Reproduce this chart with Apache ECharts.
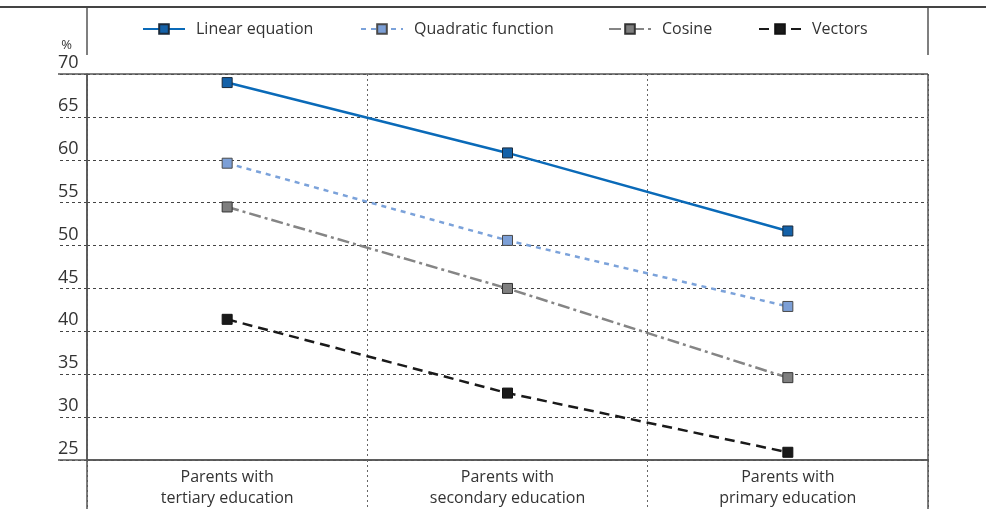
<!DOCTYPE html>
<html>
<head>
<meta charset="utf-8">
<script src="https://cdn.jsdelivr.net/npm/echarts@6/dist/echarts.min.js"></script>
<style>
  html, body { margin: 0; padding: 0; background: #fff; }
  #chart { width: 986px; height: 509px; }
</style>
</head>
<body>
<div id="chart"></div>
<script>
// Share of students (%) by parents' education level
const categories = ['Parents with\ntertiary education', 'Parents with\nsecondary education', 'Parents with\nprimary education'];
const linearEquation = [69.0, 60.8, 51.7];
const quadraticFunction = [59.6, 50.6, 42.9];
const cosine = [54.5, 45.0, 34.6];
const vectors = [41.4, 32.8, 25.9];
const seriesNames = ['Linear equation', 'Quadratic function', 'Cosine', 'Vectors'];

const FONT = '"Open Sans", "DejaVu Sans", sans-serif';
const TEXT = '#333';

const chart = echarts.init(document.getElementById('chart'), null, { renderer: 'canvas' });

function lineSeries(name, data, color, markerFill, markerBorder, dash) {
  return {
    name: name,
    type: 'line',
    data: data,
    symbol: 'rect',
    symbolSize: 10,
    showSymbol: true,
    lineStyle: { color: color, width: 2.5, type: dash },
    itemStyle: { color: markerFill, borderColor: markerBorder, borderWidth: 1 },
    emphasis: { disabled: true },
    z: 5
  };
}

function legendFor(name, left) {
  return {
    data: [name],
    left: left,
    top: 21,
    itemWidth: 42,
    itemHeight: 12,
    itemGap: 0,
    padding: 0,
    textStyle: { fontFamily: FONT, fontSize: 16, color: TEXT, padding: [0, 0, 0, 6] },
    selectedMode: false
  };
}

const option = {
  backgroundColor: '#fff',
  animation: false,
  textStyle: { fontFamily: FONT },
  legend: [
    legendFor(seriesNames[0], 142),
    legendFor(seriesNames[1], 360),
    legendFor(seriesNames[2], 608),
    legendFor(seriesNames[3], 758)
  ],
  grid: { left: 87, right: 58, top: 74, bottom: 48, containLabel: false },
  xAxis: {
    type: 'category',
    data: categories,
    boundaryGap: true,
    axisLine: { show: true, lineStyle: { color: '#555', width: 1.5 } },
    axisTick: { show: true, length: 48, lineStyle: { color: '#666', type: [2, 3], width: 1 } },
    splitLine: { show: true, lineStyle: { color: '#666', type: [2, 3], width: 1 } },
    axisLabel: { color: TEXT, fontSize: 16, fontFamily: FONT, lineHeight: 21, margin: 7 }
  },
  yAxis: [
    {
      type: 'value',
      min: 25,
      max: 70,
      interval: 5,
      name: '%',
      nameLocation: 'end',
      nameGap: 22,
      nameTextStyle: { color: TEXT, fontSize: 13, fontFamily: FONT, align: 'right', padding: [0, 15, 0, 0] },
      axisLine: { show: true, lineStyle: { color: '#555', width: 1.5 } },
      axisTick: { show: true, length: 29, lineStyle: { color: '#444', type: [3, 3], width: 1 } },
      splitLine: { show: true, lineStyle: { color: '#444', type: [3, 3], width: 1 } },
      axisLabel: {
        color: TEXT, fontSize: 18, fontFamily: FONT,
        align: 'left', verticalAlign: 'bottom', margin: 29, padding: [0, 0, 2, 0]
      }
    },
    {
      // solid frame at the top and bottom of the value range
      type: 'value',
      min: 25,
      max: 70,
      interval: 45,
      position: 'left',
      axisLine: { show: false },
      axisTick: { show: true, length: 29, lineStyle: { color: '#555', width: 1.5 } },
      splitLine: { show: true, lineStyle: { color: '#555', width: 1.5 } },
      axisLabel: { show: false }
    }
  ],
  graphic: [
    { type: 'line', shape: { x1: 0, y1: 7, x2: 986, y2: 7 }, style: { stroke: '#444', lineWidth: 2 }, z: 10 },
    { type: 'line', shape: { x1: 87, y1: 8, x2: 87, y2: 55 }, style: { stroke: '#555', lineWidth: 1.5 }, z: 10 },
    { type: 'line', shape: { x1: 928, y1: 8, x2: 928, y2: 55 }, style: { stroke: '#555', lineWidth: 1.5 }, z: 10 },
    { type: 'line', shape: { x1: 87, y1: 74, x2: 87, y2: 509 }, style: { stroke: '#555', lineWidth: 1.5 }, z: 10 },
    { type: 'line', shape: { x1: 928, y1: 74, x2: 928, y2: 509 }, style: { stroke: '#555', lineWidth: 1.5 }, z: 10 }
  ],
  series: [
    lineSeries(seriesNames[0], linearEquation, '#0a6ab8', '#1461a8', '#1b2a3a', 'solid'),
    lineSeries(seriesNames[1], quadraticFunction, '#7ba2da', '#7c9fd6', '#4a4a4a', [5, 5]),
    lineSeries(seriesNames[2], cosine, '#858585', '#7f7f7f', '#333', [12, 4, 3, 4]),
    lineSeries(seriesNames[3], vectors, '#1a1a1a', '#1a1a1a', '#111', [10, 6])
  ]
};

chart.setOption(option);
</script>
</body>
</html>
